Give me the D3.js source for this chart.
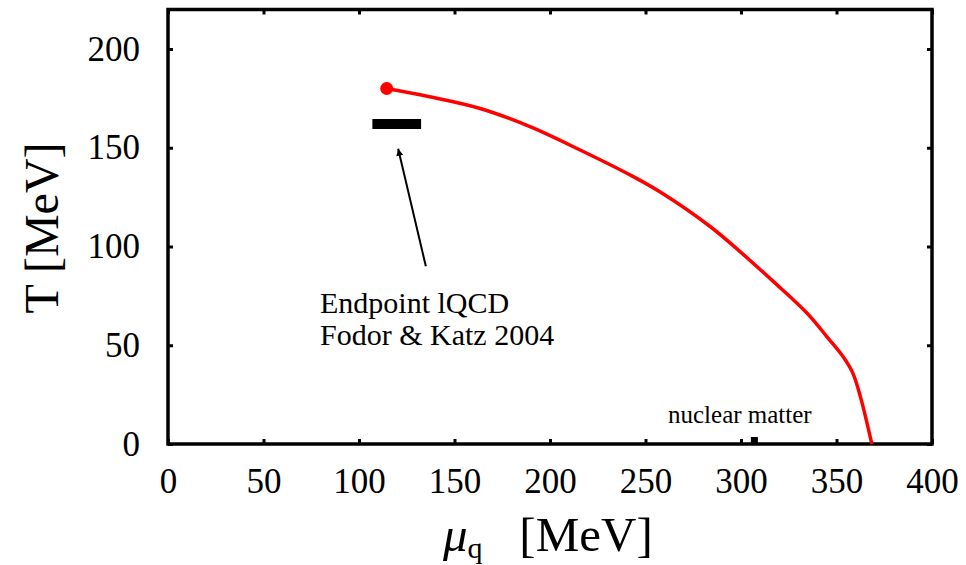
<!DOCTYPE html>
<html>
<head>
<meta charset="utf-8">
<script src="https://d3js.org/d3.v7.min.js"></script>
<style>
  body { margin: 0; background: #fff; }
</style>
</head>
<body>
<div id="chart"></div>
<script>
// phase boundary (red line)
var muVals = [114.5, 137, 163, 189.5, 215.5, 242, 257.5, 284, 299.5, 317, 334.5, 345, 353.5, 358.5, 362.5, 368.5];
var tVals  = [180, 175.8, 170, 160.7, 149, 136.2, 127.7, 110, 97.4, 82.2, 66.3, 54.3, 44.2, 36, 24, 0];
var endpoint = [114.5, 180];
// lattice endpoint bar (Fodor & Katz 2004)
var lqcdMu = [107, 132.5];
var lqcdT = 162;
var arrowFrom = [135, 90];
var arrowTo = [120.5, 149.5];
var nuclearMu = 307;
var xTicks = [0, 50, 100, 150, 200, 250, 300, 350, 400];
var yTicks = [0, 50, 100, 150, 200];

var FONT = "'Liberation Serif', 'Times New Roman', serif";
var W = 966, H = 565;
var margin = { top: 9.5, right: 34, bottom: 121, left: 168 };
var width = W - margin.left - margin.right;
var height = H - margin.top - margin.bottom;

var svg = d3.select("#chart").append("svg")
    .attr("width", W).attr("height", H);
var g = svg.append("g")
    .attr("transform", "translate(" + margin.left + "," + margin.top + ")");

var x = d3.scaleLinear().domain([0, 400]).range([0, width]);
var y = d3.scaleLinear().domain([0, 220]).range([height, 0]);

// axes with inward ticks, labels on bottom/left only
function noDomain(a) { a.select(".domain").remove(); }
g.append("g").attr("transform", "translate(0," + height + ")")
    .call(d3.axisBottom(x).tickValues(xTicks).tickSizeInner(-5).tickSizeOuter(0).tickPadding(24))
    .call(noDomain);
g.append("g")
    .call(d3.axisTop(x).tickValues(xTicks).tickSizeInner(-5).tickSizeOuter(0).tickFormat(""))
    .call(noDomain);
g.append("g")
    .call(d3.axisLeft(y).tickValues(yTicks).tickSizeInner(-5).tickSizeOuter(0).tickPadding(28))
    .call(noDomain);
g.append("g").attr("transform", "translate(" + width + ",0)")
    .call(d3.axisRight(y).tickValues(yTicks).tickSizeInner(-5).tickSizeOuter(0).tickFormat(""))
    .call(noDomain);

g.selectAll(".tick line").attr("stroke", "#000").attr("stroke-width", 3);
g.selectAll(".tick text")
    .attr("font-family", FONT)
    .attr("font-size", 35)
    .attr("fill", "#000");

// frame
g.append("rect")
    .attr("x", 0).attr("y", 0)
    .attr("width", width).attr("height", height)
    .attr("fill", "none").attr("stroke", "#000").attr("stroke-width", 3.5);

// red boundary line
var pts = muVals.map(function (m, i) { return [m, tVals[i]]; });
g.append("path")
    .datum(pts)
    .attr("d", d3.line()
        .x(function (d) { return x(d[0]); })
        .y(function (d) { return y(d[1]); })
        .curve(d3.curveCatmullRom.alpha(0.5)))
    .attr("fill", "none")
    .attr("stroke", "#ff0000")
    .attr("stroke-width", 3.5);

g.append("circle")
    .attr("cx", x(endpoint[0])).attr("cy", y(endpoint[1]))
    .attr("r", 6.5).attr("fill", "#ff0000");

// lattice bar
g.append("line")
    .attr("x1", x(lqcdMu[0])).attr("x2", x(lqcdMu[1]))
    .attr("y1", y(lqcdT)).attr("y2", y(lqcdT))
    .attr("stroke", "#000").attr("stroke-width", 10);

// arrow
svg.append("defs").append("marker")
    .attr("id", "head")
    .attr("viewBox", "0 0 10 10")
    .attr("refX", 10).attr("refY", 5)
    .attr("markerWidth", 11).attr("markerHeight", 7)
    .attr("markerUnits", "userSpaceOnUse")
    .attr("orient", "auto")
    .append("path").attr("d", "M0,0 L10,5 L0,10 z").attr("fill", "#000");
g.append("line")
    .attr("x1", x(arrowFrom[0])).attr("y1", y(arrowFrom[1]))
    .attr("x2", x(arrowTo[0])).attr("y2", y(arrowTo[1]))
    .attr("stroke", "#000").attr("stroke-width", 2)
    .attr("marker-end", "url(#head)");

// nuclear matter point
g.append("rect")
    .attr("x", x(nuclearMu) - 3.5).attr("y", y(0) - 7)
    .attr("width", 7).attr("height", 7).attr("fill", "#000");

// annotations
function label(px, py, size, str) {
    return svg.append("text").attr("x", px).attr("y", py)
        .attr("font-family", FONT).attr("font-size", size)
        .attr("fill", "#000").text(str);
}
label(320, 313, 30, "Endpoint lQCD");
label(320, 345, 30, "Fodor & Katz 2004");
label(668, 423, 25, "nuclear matter");

// axis titles
var xt = svg.append("text")
    .attr("x", 443).attr("y", 551)
    .attr("font-family", FONT)
    .attr("font-size", 49);
xt.append("tspan").attr("font-style", "italic").text("μ");
xt.append("tspan").attr("dy", 7).attr("font-size", 30).text("q");
xt.append("tspan").attr("dy", -7).text("\u00a0\u00a0\u00a0[MeV]");

svg.append("text")
    .attr("transform", "translate(58,228) rotate(-90)")
    .attr("text-anchor", "middle")
    .attr("font-family", FONT)
    .attr("font-size", 48)
    .text("T  [MeV]");
</script>
</body>
</html>
